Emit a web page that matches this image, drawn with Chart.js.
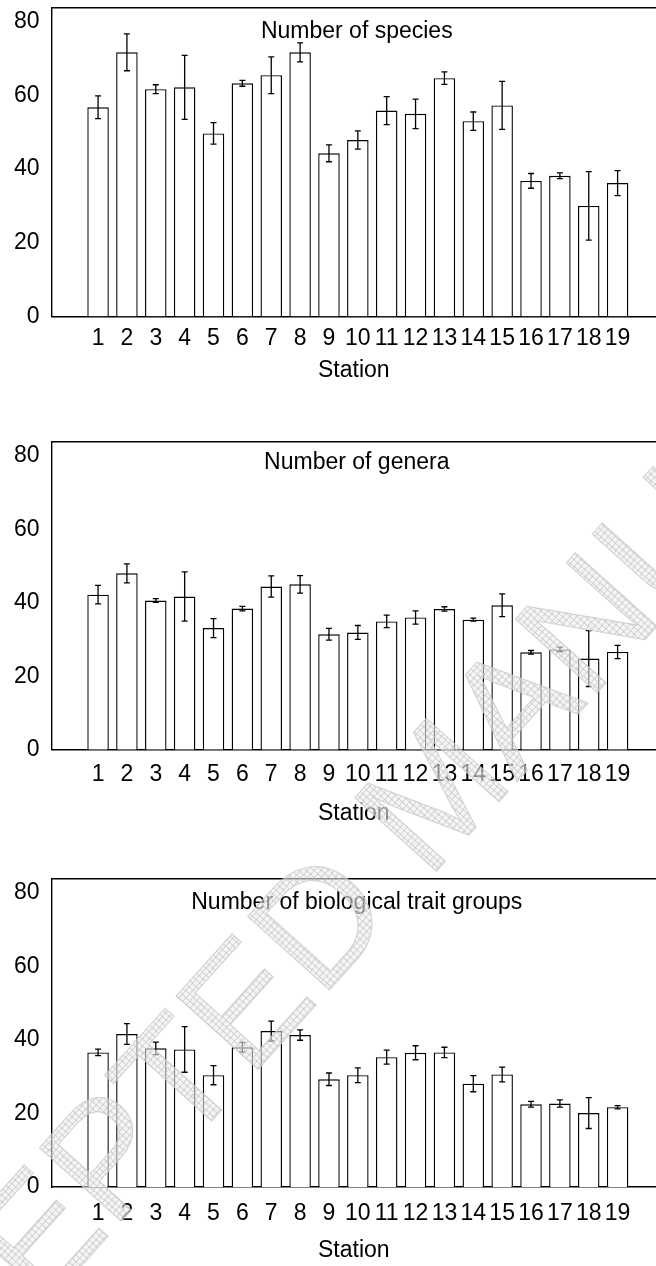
<!DOCTYPE html>
<html>
<head>
<meta charset="utf-8">
<script src="https://cdn.jsdelivr.net/npm/chart.js@4.4.1/dist/chart.umd.min.js"></script>
<style>
  html, body { margin: 0; padding: 0; background: #fff; }
  body { width: 656px; height: 1266px; position: relative; overflow: hidden; }
  canvas.panel { position: absolute; left: 0; }
  #mark { position: absolute; left: 0; top: 0; pointer-events: none; }
</style>
</head>
<body>
<canvas id="species" class="panel" width="656" height="402" style="top:-18px"></canvas>
<canvas id="genera" class="panel" width="656" height="411" style="top:416px"></canvas>
<canvas id="traits" class="panel" width="656" height="411" style="top:853px"></canvas>
<canvas id="mark" width="656" height="1266"></canvas>
<script>
const stations = [1, 2, 3, 4, 5, 6, 7, 8, 9, 10, 11, 12, 13, 14, 15, 16, 17, 18, 19];
const yTicks = [0, 20, 40, 60, 80];

const speciesMean = [56.8, 71.7, 61.7, 62.2, 49.7, 63.3, 65.5, 71.7, 44.3, 47.9, 55.9, 55.0, 64.7, 53.0, 57.3, 36.8, 38.2, 30.0, 36.2];
const speciesErr = [3.1, 5.0, 1.2, 8.7, 2.9, 0.8, 5.0, 2.6, 2.3, 2.5, 3.8, 4.0, 1.7, 2.5, 6.5, 2.0, 0.8, 9.3, 3.4];

const generaMean = [42.2, 48.0, 40.6, 41.7, 33.1, 38.4, 44.4, 45.0, 31.4, 31.9, 34.9, 36.0, 38.3, 35.4, 39.3, 26.5, 27.3, 24.8, 26.6];
const generaErr = [2.5, 2.6, 0.5, 6.7, 2.6, 0.6, 2.9, 2.4, 1.6, 1.9, 1.7, 1.8, 0.6, 0.4, 3.1, 0.5, 0.6, 7.6, 1.8];

const traitMean = [36.6, 41.6, 37.7, 37.4, 30.4, 38.0, 42.4, 41.3, 29.3, 30.4, 35.3, 36.5, 36.6, 28.1, 30.6, 22.5, 22.7, 20.1, 21.7];
const traitErr = [0.9, 2.8, 1.7, 6.2, 2.6, 1.35, 2.7, 1.4, 1.7, 2.0, 1.9, 1.9, 1.4, 2.2, 2.0, 0.8, 1.0, 4.2, 0.45];

const FONT = '"Liberation Sans", Arial, Helvetica, sans-serif';
const font = { family: FONT, size: 23 };

// error bars, drawn on top of the white bars
const errorBars = {
    id: 'errorBars',
    afterDatasetsDraw(chart) {
        const { ctx, scales: { x, y } } = chart;
        const ds = chart.data.datasets[0];
        ctx.save();
        ctx.strokeStyle = '#000';
        ctx.lineWidth = 1.3;
        ds.data.forEach((p, i) => {
            const e = ds.errs[i];
            const px = x.getPixelForValue(p.x);
            const top = y.getPixelForValue(p.y + e);
            const bot = y.getPixelForValue(p.y - e);
            ctx.beginPath();
            ctx.moveTo(px, top); ctx.lineTo(px, bot);
            ctx.moveTo(px - 3, top); ctx.lineTo(px + 3, top);
            ctx.moveTo(px - 3, bot); ctx.lineTo(px + 3, bot);
            ctx.stroke();
        });
        ctx.restore();
    }
};

// top line of the frame + title inside the plot
const makeFrame = (title, dy) => ({
    id: 'frame',
    afterDraw(chart) {
        const { ctx, chartArea: a } = chart;
        ctx.save();
        ctx.strokeStyle = '#000';
        ctx.lineWidth = 1.4;
        ctx.beginPath();
        ctx.moveTo(a.left, a.top);
        ctx.lineTo(a.right, a.top);
        ctx.stroke();
        ctx.fillStyle = '#000';
        ctx.font = '23px ' + FONT;
        ctx.textAlign = 'center';
        ctx.textBaseline = 'middle';
        ctx.fillText(title, (a.left + a.right) / 2 + 3, a.top + dy);
        ctx.restore();
    }
});

const makeChart = (id, title, means, errs, opt) => new Chart(document.getElementById(id), {
    type: 'bar',
    data: {
        datasets: [{
            data: stations.map((s, i) => ({ x: s, y: means[i] })),
            errs: errs,
            backgroundColor: '#fff',
            borderColor: '#000',
            borderWidth: 1.4,
            barPercentage: 0.745,
            categoryPercentage: 1,
        }],
    },
    options: {
        responsive: false,
        animation: false,
        devicePixelRatio: 1,
        layout: { padding: { left: 2, right: 0, top: 0, bottom: 0 } },
        plugins: { legend: { display: false }, tooltip: { enabled: false } },
        scales: {
            x: {
                type: 'linear',
                offset: false,
                min: -0.61,
                max: 20.33,
                afterBuildTicks: (s) => { s.ticks = stations.map((v) => ({ value: v })); },
                grid: { display: false, drawTicks: false, tickLength: 0, offset: false },
                border: { display: true, color: '#000', width: 1.4 },
                ticks: { color: '#000', font, padding: opt.tickPad, autoSkip: false, maxRotation: 0, minRotation: 0 },
                title: { display: true, text: 'Station', color: '#000', font, padding: { top: opt.titlePad, bottom: 0 } },
            },
            y: {
                min: 0,
                max: 83.8,
                afterBuildTicks: (s) => { s.ticks = yTicks.map((v) => ({ value: v })); },
                grid: { display: false, drawTicks: false, tickLength: 0 },
                border: { display: true, color: '#000', width: 1.4 },
                ticks: { color: '#000', font, padding: 12 },
            },
        },
    },
    plugins: [errorBars, makeFrame(title, opt.titleDy)],
});

makeChart('species', 'Number of species', speciesMean, speciesErr, { tickPad: 8.2, titlePad: -4, titleDy: 24 });
makeChart('genera', 'Number of genera', generaMean, generaErr, { tickPad: 11.3, titlePad: -0.5, titleDy: 21 });
makeChart('traits', 'Number of biological trait groups', traitMean, traitErr, { tickPad: 12.9, titlePad: -4, titleDy: 24 });

// watermark overlay
(() => {
    const c = document.getElementById('mark');
    const ctx = c.getContext('2d');
    const tile = document.createElement('canvas');
    tile.width = 5; tile.height = 5;
    const t = tile.getContext('2d');
    t.fillStyle = 'rgba(236,236,236,0.55)';
    t.fillRect(0, 0, 5, 5);
    t.fillStyle = 'rgba(190,190,190,0.6)';
    t.fillRect(0, 0, 5, 1);
    t.fillRect(0, 0, 1, 5);
    ctx.save();
    ctx.translate(433, 790);
    ctx.rotate(-48 * Math.PI / 180);
    ctx.font = '160px ' + FONT;
    ctx.textAlign = 'center';
    ctx.textBaseline = 'alphabetic';
    ctx.fillStyle = ctx.createPattern(tile, 'repeat');
    ctx.fillText('ACCEPTED MANUSCRIPT', 0, 57);
    ctx.strokeStyle = 'rgba(200,200,200,0.8)';
    ctx.lineWidth = 1;
    ctx.strokeText('ACCEPTED MANUSCRIPT', 0, 57);
    ctx.restore();
})();
</script>
</body>
</html>
